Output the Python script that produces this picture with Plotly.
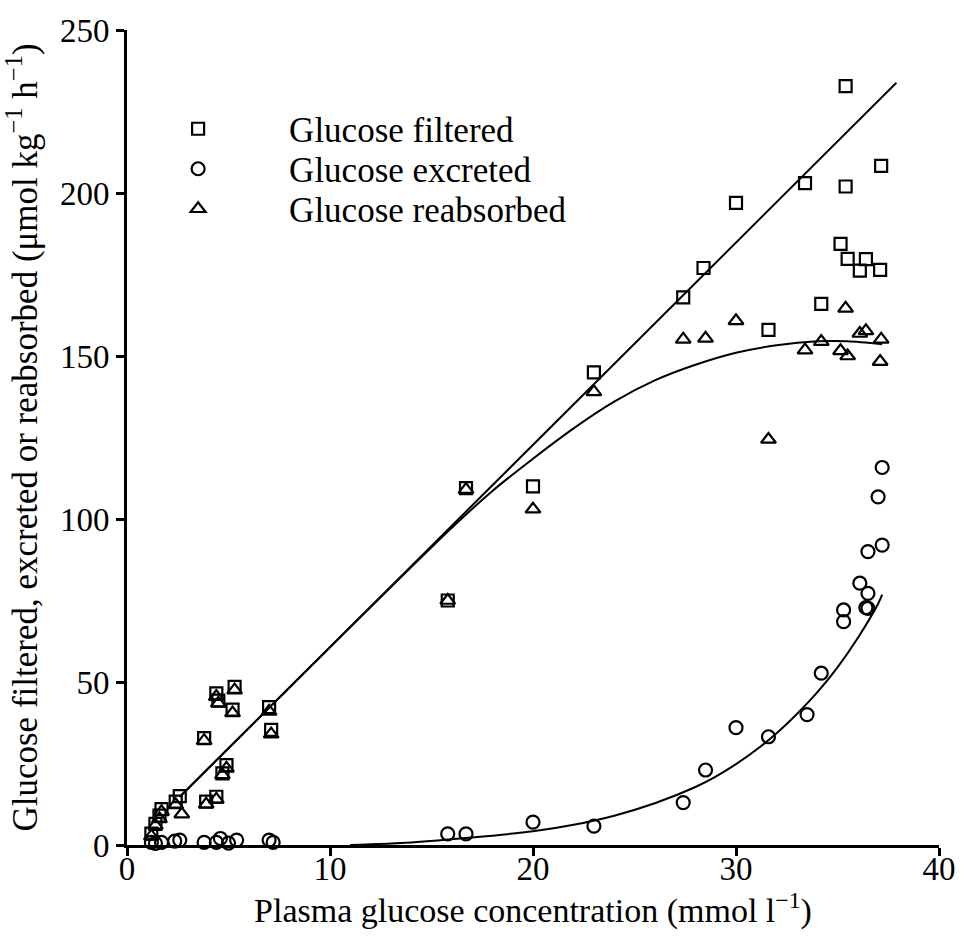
import plotly.graph_objects as go

# ---- data ----
# Glucose filtered (squares)
filt_x = [1.2, 1.4, 1.6, 1.7, 2.4, 2.6, 3.8, 3.9, 4.4, 4.5, 4.4, 4.7, 4.9, 5.2, 5.3, 7.0, 7.1,
          15.8, 16.7, 20.0, 23.0, 27.4, 28.4, 30.0, 31.6, 33.4, 34.2, 35.15, 35.4, 35.4,
          35.5, 36.1, 36.4, 37.1, 37.15]
filt_y = [3.5, 6.5, 9.0, 11.0, 13.3, 15.0, 32.8, 13.3, 46.5, 44.3, 14.8, 22.0, 24.5, 41.5, 48.5, 42.3, 35.3,
          75.0, 109.5, 110.0, 145.0, 168.0, 177.0, 197.0, 158.0, 203.0, 166.0, 184.4, 232.8, 202.0,
          179.8, 176.2, 179.7, 176.4, 208.3]

# Glucose excreted (circles)
excr_x = [1.2, 1.4, 1.7, 2.35, 2.6, 3.8, 4.4, 4.6, 5.0, 5.4, 7.0, 7.2,
          15.8, 16.7, 20.0, 23.0, 27.4, 28.5, 30.0, 31.6, 33.5, 34.2, 35.3, 35.3,
          36.1, 36.4, 36.5, 36.5, 36.5, 37.2, 37.0, 37.2]
excr_y = [0.8, 0.5, 0.8, 1.2, 1.5, 0.8, 0.8, 2.0, 0.6, 1.5, 1.5, 0.8,
          3.4, 3.4, 7.0, 5.8, 13.0, 23.0, 36.0, 33.2, 40.0, 52.7, 72.1, 68.5,
          80.3, 72.8, 77.2, 72.6, 90.0, 92.0, 106.8, 115.8]

# Glucose reabsorbed (triangles)
reab_x = [1.2, 1.4, 1.6, 1.7, 2.4, 2.7, 3.8, 3.9, 4.4, 4.5, 4.4, 4.7, 4.9, 5.2, 5.3, 7.0, 7.1,
          15.8, 16.7, 20.0, 23.0, 27.4, 28.5, 30.0, 31.6, 33.4, 34.2, 35.15, 35.4,
          35.5, 36.1, 36.4, 37.1, 37.15]
reab_y = [2.7, 6.0, 8.0, 10.2, 12.3, 9.5, 32.0, 12.5, 45.5, 43.5, 14.0, 21.5, 23.5, 40.5, 47.5, 41.0, 34.0,
          75.0, 109.0, 103.0, 139.0, 155.1, 155.4, 160.8, 124.4, 151.8, 154.4, 151.6, 164.6,
          150.0, 156.9, 157.7, 148.3, 155.1]

# fitted curves
fit_filt_x = [2.6, 37.9]
fit_filt_y = [14.8, 233.8]

fit_reab_x = [2.6, 8.0, 12.0, 16.0, 18.0, 20.0, 22.0, 24.0, 26.0, 28.0, 30.0, 32.0, 34.0, 35.5, 37.2]
fit_reab_y = [14.8, 48.3, 73.0, 97.3, 108.6, 118.5, 127.8, 136.0, 142.5, 147.3, 151.0, 153.3, 154.5, 154.5, 153.6]

fit_excr_x = [11.0, 14.0, 17.0, 20.0, 22.0, 24.0, 26.0, 28.0, 29.0, 30.0, 31.0, 32.0, 33.0,
              34.0, 35.0, 36.0, 37.0, 37.2]
fit_excr_y = [0.0, 0.8, 2.3, 4.2, 6.2, 9.0, 12.8, 17.8, 21.0, 24.8, 29.2, 34.3, 40.2,
              46.8, 54.5, 63.5, 74.0, 76.8]

x_ticks = [0, 10, 20, 30, 40]
y_ticks = [0, 50, 100, 150, 200, 250]

FONT = "Liberation Serif, Times New Roman, serif"

fig = go.Figure()

fig.add_trace(go.Scatter(x=fit_filt_x, y=fit_filt_y, mode="lines",
                         line=dict(color="black", width=2),
                         showlegend=False, hoverinfo="skip"))
fig.add_trace(go.Scatter(x=fit_reab_x, y=fit_reab_y, mode="lines",
                         line=dict(color="black", width=2, shape="spline", smoothing=0.8),
                         showlegend=False, hoverinfo="skip"))
fig.add_trace(go.Scatter(x=fit_excr_x, y=fit_excr_y, mode="lines",
                         line=dict(color="black", width=2, shape="spline", smoothing=0.8),
                         showlegend=False, hoverinfo="skip"))

fig.add_trace(go.Scatter(x=filt_x, y=filt_y, mode="markers", name="Glucose filtered",
                         cliponaxis=False, legend="legend",
                         marker=dict(symbol="square-open", size=12, color="black",
                                     line=dict(color="black", width=2.2))))
fig.add_trace(go.Scatter(x=excr_x, y=excr_y, mode="markers", name="Glucose excreted",
                         cliponaxis=False, legend="legend2",
                         marker=dict(symbol="circle-open", size=13, color="black",
                                     line=dict(color="black", width=2.2))))
fig.add_trace(go.Scatter(x=reab_x, y=reab_y, mode="markers", name="Glucose reabsorbed",
                         cliponaxis=False, legend="legend3",
                         marker=dict(symbol="triangle-up-open", size=13, color="black",
                                     line=dict(color="black", width=2.2))))

axis_common = dict(showgrid=False, zeroline=False, showline=True, linecolor="black",
                   linewidth=3, ticks="outside", ticklen=8, tickwidth=2.5, tickcolor="black",
                   tickfont=dict(family=FONT, size=33, color="black"), mirror=False)

PLOT_TOP, PLOT_H = 30, 815
def py(p):
    return 1 - (p - PLOT_TOP) / PLOT_H

legend_common = dict(x=-0.0245, xanchor="left", yanchor="middle",
                     font=dict(family=FONT, size=35, color="black"),
                     bgcolor="rgba(0,0,0,0)", itemwidth=172)

fig.update_layout(
    width=968, height=943, autosize=False,
    margin=dict(l=127, r=26, t=30, b=98),
    paper_bgcolor="white", plot_bgcolor="white",
    font=dict(family=FONT, color="black"),
    xaxis=dict(range=[0, 40], tickvals=x_ticks, ticktext=[str(v) for v in x_ticks],
               ticklabelstandoff=-16,
               title=dict(text="Plasma glucose concentration (mmol l<sup>−1</sup>)",
                          font=dict(family=FONT, size=34, color="black"), standoff=0),
               **axis_common),
    yaxis=dict(range=[0, 250], tickvals=y_ticks, ticktext=[str(v) for v in y_ticks],
               title=dict(text="Glucose filtered, excreted or reabsorbed (μmol kg<sup>−1</sup> h<sup>−1</sup>)",
                          font=dict(family=FONT, size=35, color="black"), standoff=12),
               **axis_common),
    legend=dict(y=py(129), **legend_common),
    legend2=dict(y=py(169), **legend_common),
    legend3=dict(y=py(209), **legend_common),
    showlegend=True,
)

fig.write_html("out.html", config={"displayModeBar": False},
               post_script="document.body.style.margin='0';")
